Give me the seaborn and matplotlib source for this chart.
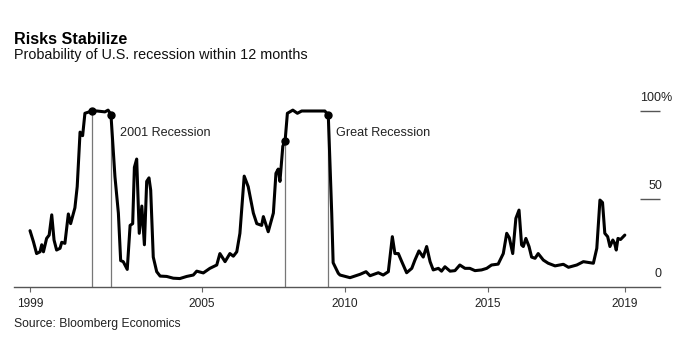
import numpy as np
import pandas as pd
import seaborn as sns
import matplotlib.pyplot as plt

# Probability of U.S. recession within 12 months (%)
dates = [
    1999.00, 1999.12, 1999.23, 1999.35, 1999.41, 1999.47, 1999.58, 1999.67,
    1999.76, 1999.84, 1999.93, 2000.05, 2000.11, 2000.22, 2000.34, 2000.42,
    2000.57, 2000.65, 2000.75, 2000.84, 2000.92, 2001.16, 2001.34, 2001.62,
    2001.73, 2001.83, 2001.97, 2002.09, 2002.17, 2002.26, 2002.40, 2002.50,
    2002.59, 2002.65, 2002.73, 2002.82, 2002.91, 2003.00, 2003.08, 2003.16,
    2003.22, 2003.31, 2003.43, 2003.55, 2003.78, 2004.01, 2004.24, 2004.48,
    2004.71, 2004.83, 2005.06, 2005.29, 2005.53, 2005.64, 2005.82, 2005.99,
    2006.11, 2006.23, 2006.34, 2006.49, 2006.63, 2006.81, 2006.93, 2007.10,
    2007.16, 2007.33, 2007.51, 2007.60, 2007.68, 2007.74, 2007.84, 2007.92,
    2008.00, 2008.19, 2008.35, 2008.50, 2008.97, 2009.31, 2009.43, 2009.55,
    2009.60, 2009.78, 2009.84, 2010.19, 2010.54, 2010.75, 2010.89, 2011.18,
    2011.35, 2011.53, 2011.67, 2011.76, 2011.88, 2012.00, 2012.17, 2012.35,
    2012.46, 2012.60, 2012.75, 2012.87, 2012.99, 2013.10, 2013.28, 2013.39,
    2013.51, 2013.69, 2013.86, 2014.03, 2014.21, 2014.38, 2014.56, 2014.79,
    2014.97, 2015.14, 2015.37, 2015.55, 2015.67, 2015.76, 2015.88, 2015.99,
    2016.10, 2016.19, 2016.25, 2016.34, 2016.45, 2016.54, 2016.66, 2016.77,
    2016.95, 2017.12, 2017.36, 2017.65, 2017.83, 2018.12, 2018.35, 2018.70,
    2018.82, 2018.93, 2019.02, 2019.10, 2019.20, 2019.28, 2019.38, 2019.44,
    2019.50, 2019.56, 2019.65, 2019.80,
]
prob = [
    32.0, 25.7, 19.0, 20.0, 24.0, 20.0, 27.6, 29.5,
    41.0, 26.7, 21.0, 22.0, 25.4, 24.8, 41.5, 36.0,
    45.0, 57.0, 88.0, 86.0, 98.7, 100.0, 100.0, 99.5,
    100.5, 98.0, 62.7, 42.0, 15.0, 14.4, 10.0, 35.0,
    36.0, 68.0, 72.7, 30.5, 46.0, 24.0, 60.0, 62.0,
    55.0, 17.0, 8.7, 6.2, 6.0, 5.0, 4.8, 6.0,
    6.8, 9.0, 8.0, 10.6, 12.5, 19.0, 14.4, 19.0,
    17.5, 20.0, 30.5, 63.0, 57.0, 42.0, 36.0, 35.0,
    40.0, 31.4, 42.0, 64.6, 67.0, 60.0, 80.0, 83.0,
    98.7, 100.5, 98.7, 100.0, 100.0, 100.0, 97.7, 42.0,
    13.8, 7.8, 6.8, 5.3, 7.2, 8.7, 6.4, 8.1,
    6.8, 8.7, 28.6, 19.0, 19.0, 14.4, 8.1, 10.6,
    15.3, 20.5, 17.0, 23.0, 14.4, 9.7, 10.6, 9.0,
    11.5, 9.0, 9.3, 12.5, 10.6, 10.6, 9.3, 9.7,
    10.6, 12.5, 13.0, 19.0, 30.5, 28.0, 19.0, 39.0,
    43.7, 23.9, 23.0, 27.6, 23.0, 17.0, 16.3, 19.0,
    15.3, 13.5, 12.0, 12.9, 11.2, 12.5, 14.4, 13.5,
    22.0, 49.4, 48.0, 30.5, 28.6, 23.0, 26.7, 25.0,
    21.0, 27.6, 27.0, 29.5,
]

recession_dates = [2001.16, 2001.83, 2007.92, 2009.43]
recession_names = ["2001 Recession", "Great Recession"]
tick_years = [1999, 2005, 2010, 2015, dates[-1]]
tick_labels = ["1999", "2005", "2010", "2015", "2019"]
y_levels = [0, 50, 100]
y_labels = ["0", "50", "100%"]

df = pd.DataFrame({"date": dates, "prob": prob})

sns.set_theme(style="white")
plt.rcParams["font.family"] = ["Liberation Sans", "DejaVu Sans"]

fig = plt.figure(figsize=(6.8, 3.57), dpi=100)
ax = fig.add_axes([14 / 680, 70 / 357, 646 / 680, 184.8 / 357])

# recession markers: thin grey lines up to the curve, dots on the curve
rec_vals = np.interp(recession_dates, dates, prob)
ax.vlines(recession_dates, 0, rec_vals, color="#777777", lw=0.9, zorder=1)

sns.lineplot(data=df, x="date", y="prob", ax=ax, color="black", lw=2.2,
             estimator=None, sort=False, zorder=3, solid_joinstyle="round")
ax.plot(recession_dates, rec_vals, "o", color="black", ms=5, zorder=4)

ax.text(recession_dates[1] + 0.32, 87.7, recession_names[0], fontsize=9.1,
        color="#222222", va="center", ha="left")
ax.text(recession_dates[3] + 0.27, 87.7, recession_names[1], fontsize=9.1,
        color="#222222", va="center", ha="left")

ax.set_xlim(1998.44, 2021.03)
ax.set_ylim(0, 105)
ax.set_xticks(tick_years)
ax.set_xticklabels(tick_labels)
ax.set_yticks([])
ax.set_xlabel("")
ax.set_ylabel("")
ax.tick_params(axis="x", bottom=True, length=3.6, width=0.8, color="#666666",
               pad=4, labelsize=8.6, labelcolor="#222222")

for s in ["top", "right", "left"]:
    ax.spines[s].set_visible(False)
ax.spines["bottom"].set_color("#555555")
ax.spines["bottom"].set_linewidth(1.0)

# right-side value labels with short rules underneath
ytr = ax.get_yaxis_transform()
ax.hlines([v for v in y_levels if v > 0], 0.969, 1.0, transform=ytr,
          color="#555555", lw=1.0, clip_on=False)
for v, lab in zip(y_levels, y_labels):
    xr = 1.0 + (0.019 if lab.endswith("%") else 0.003)
    ax.annotate(lab, xy=(xr, v), xycoords=ytr, xytext=(0, 5),
                textcoords="offset points", ha="right", va="bottom",
                fontsize=9, color="#222222", annotation_clip=False)

fig.text(14 / 680, 1 - 44 / 357, "Risks Stabilize", fontsize=11.6,
         fontweight="bold", color="black", va="baseline")
fig.text(14 / 680, 1 - 59 / 357, "Probability of U.S. recession within 12 months",
         fontsize=10.4, color="#111111", va="baseline")
fig.text(14 / 680, 1 - 327.5 / 357, "Source: Bloomberg Economics", fontsize=8.7,
         color="#222222", va="baseline")

fig.savefig("out.png", dpi=100)
